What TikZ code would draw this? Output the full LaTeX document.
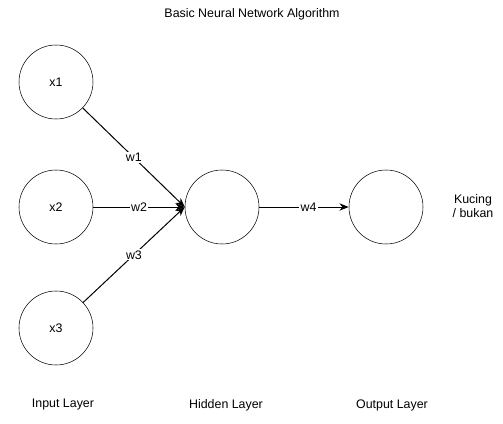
\documentclass[tikz,border=0pt]{standalone}
\usepackage{fontspec}
\setmainfont{Liberation Sans}
\usetikzlibrary{arrows.meta,positioning}

\begin{document}
\begin{tikzpicture}[
  x=0.75pt, y=-0.75pt,
  font=\fontsize{9.3}{10.8}\selectfont,
  neuron/.style={draw, circle, minimum size=55.5pt, inner sep=0pt},
  arr/.style={-{Stealth[length=7pt,width=5.5pt]}, line width=0.75pt},
  wlabel/.style={fill=white, inner sep=1pt},
  txt/.style={align=center, inner sep=0pt}
]
\useasboundingbox (0,0) rectangle (503,424);

\node[txt] (title) at (252,14) {Basic Neural Network Algorithm};

\node[neuron] (x1) at (56,82) {x1};
\node[neuron] (x2) at (56,207) {x2};
\node[neuron] (x3) at (56,328) {x3};
\node[neuron] (hid) at (222,207) {};
\node[neuron] (out) at (386,207) {};

\node[txt] (res) at (473,206) {Kucing\\/ bukan};

\node[txt] (inlay) at (63,405) {Input Layer};
\node[txt] (hidlay) at (226,405) {Hidden Layer};
\node[txt] (outlay) at (392,405) {Output Layer};

\draw[arr] (x1) -- node[wlabel] {w1} (hid.west);
\draw[arr] (x2) -- node[wlabel] {w2} (hid.west);
\draw[arr] (x3) -- node[wlabel] {w3} (hid.west);
\draw[arr] (hid) -- node[wlabel, pos=0.55] {w4} (out);
\end{tikzpicture}
\end{document}
